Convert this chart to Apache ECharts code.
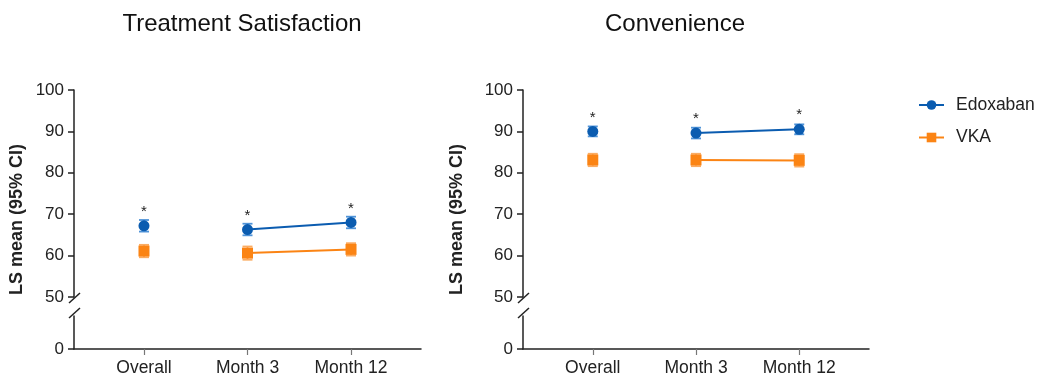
<!DOCTYPE html>
<html>
<head>
<meta charset="utf-8">
<script src="https://cdn.jsdelivr.net/npm/echarts@6/dist/echarts.min.js"></script>
<style>
  html, body { margin: 0; padding: 0; background: #fff; }
  #chart { width: 1039px; height: 378px; }
</style>
</head>
<body>
<div id="chart"></div>
<script>
// categories on the x axis
const categories = ['Overall', 'Month 3', 'Month 12']

// Treatment Satisfaction: LS mean and 95% CI
const edoxTS = [67.2, 66.3, 68.0]
const edoxTSLow = [65.8, 64.9, 66.6]
const edoxTSHigh = [68.6, 67.7, 69.4]
const vkaTS = [61.1, 60.6, 61.5]
const vkaTSLow = [59.6, 59.0, 60.0]
const vkaTSHigh = [62.6, 62.2, 63.0]
const sigTS = [true, true, true]

// Convenience: LS mean and 95% CI
const edoxConv = [90.0, 89.6, 90.5]
const edoxConvLow = [88.8, 88.3, 89.3]
const edoxConvHigh = [91.2, 90.9, 91.7]
const vkaConv = [83.1, 83.1, 83.0]
const vkaConvLow = [81.6, 81.6, 81.5]
const vkaConvHigh = [84.6, 84.6, 84.5]
const sigConv = [true, true, true]

// y axis ranges
const upperRange = [50, 100]
const upperStep = 10
const lowerTicks = [0]

const BLUE = '#0b5cb0'
const BLUE_LIGHT = '#4f93d8'
const ORANGE = '#fb8414'
const ORANGE_LIGHT = '#fbac62'
const INK = '#222'
const FONT = 'Liberation Sans, Arial, sans-serif'

// layout
const panels = [
  { left: 74, right: 421, title: 'Treatment Satisfaction', titleX: 237 },
  { left: 523, right: 869, title: 'Convenience', titleX: 670 }
]
const TOP = 90
const UPPER_BOTTOM = 297
const LOWER_TOP = 316
const AXIS_Y = 349
const PAD = 0.676 // category padding at both ends, in category units

const chart = echarts.init(document.getElementById('chart'))

const grid = []
const xAxis = []
const yAxis = []
const series = []
const graphic = []

function errorBars(name, lo, hi, color, axisIdx) {
  return {
    type: 'custom',
    name: name + ' CI',
    xAxisIndex: axisIdx,
    yAxisIndex: axisIdx,
    z: 2,
    data: lo.map((v, i) => [i, v, hi[i]]),
    renderItem: (params, api) => {
      const a = api.coord([api.value(0), api.value(1)])
      const b = api.coord([api.value(0), api.value(2)])
      const w = 5
      const style = { stroke: color, lineWidth: 1.8 }
      return {
        type: 'group',
        children: [
          { type: 'line', shape: { x1: a[0], y1: a[1], x2: b[0], y2: b[1] }, style },
          { type: 'line', shape: { x1: a[0] - w, y1: a[1], x2: a[0] + w, y2: a[1] }, style },
          { type: 'line', shape: { x1: b[0] - w, y1: b[1], x2: b[0] + w, y2: b[1] }, style }
        ]
      }
    }
  }
}

function lineSeries(name, vals, from, to, symbol, size, color, axisIdx, sig) {
  const data = []
  for (let i = from; i <= to; i++) data.push([i, vals[i]])
  const s = {
    type: 'line',
    name: name,
    xAxisIndex: axisIdx,
    yAxisIndex: axisIdx,
    z: 3,
    data: data,
    symbol: symbol,
    symbolSize: size,
    itemStyle: { color: color },
    lineStyle: { color: color, width: 2 },
    emphasis: { disabled: true }
  }
  if (sig) {
    s.label = {
      show: true,
      position: 'top',
      distance: 1,
      fontSize: 15,
      color: INK,
      formatter: p => (sig[p.data[0]] ? '*' : '')
    }
  }
  return s
}

const panelData = [
  { edox: edoxTS, edoxLo: edoxTSLow, edoxHi: edoxTSHigh, vka: vkaTS, vkaLo: vkaTSLow, vkaHi: vkaTSHigh, sig: sigTS },
  { edox: edoxConv, edoxLo: edoxConvLow, edoxHi: edoxConvHigh, vka: vkaConv, vkaLo: vkaConvLow, vkaHi: vkaConvHigh, sig: sigConv }
]

panels.forEach((p, k) => {
  const width = p.right - p.left
  const up = k * 2
  const low = k * 2 + 1
  grid.push({ left: p.left, top: TOP, width: width, height: UPPER_BOTTOM - TOP })
  grid.push({ left: p.left, top: LOWER_TOP, width: width, height: AXIS_Y - LOWER_TOP })

  xAxis.push({
    type: 'value', gridIndex: up, min: -PAD, max: categories.length - 1 + PAD, show: false
  })
  xAxis.push({
    type: 'value',
    gridIndex: low,
    min: -PAD,
    max: categories.length - 1 + PAD,
    splitLine: { show: false },
    axisLine: { show: true, onZero: false, lineStyle: { color: INK, width: 1.5 } },
    axisTick: { show: true, customValues: categories.map((c, i) => i), length: 6, lineStyle: { color: '#777', width: 1.2 } },
    axisLabel: {
      customValues: categories.map((c, i) => i),
      formatter: v => categories[Math.round(v)],
      fontSize: 17.5, color: INK, margin: 10, fontFamily: FONT
    }
  })

  yAxis.push({
    type: 'value',
    gridIndex: up,
    min: upperRange[0],
    max: upperRange[1],
    interval: upperStep,
    splitLine: { show: false },
    axisLine: { show: true, onZero: false, lineStyle: { color: INK, width: 1.5 } },
    axisTick: { show: true, length: 6, lineStyle: { color: INK, width: 1.5 } },
    axisLabel: { fontSize: 17, color: INK, margin: 10, fontFamily: FONT }
  })
  yAxis.push({
    type: 'value',
    gridIndex: low,
    min: 0,
    max: 10,
    splitLine: { show: false },
    axisLine: { show: true, onZero: false, lineStyle: { color: INK, width: 1.5 } },
    axisTick: { show: true, customValues: lowerTicks, length: 6, lineStyle: { color: INK, width: 1.5 } },
    axisLabel: { customValues: lowerTicks, fontSize: 17, color: INK, margin: 10, fontFamily: FONT }
  })

  const d = panelData[k]
  const n = categories.length - 1
  series.push(lineSeries('Edoxaban', d.edox, 1, n, 'circle', 11, BLUE, up, d.sig))
  series.push(lineSeries('Edoxaban', d.edox, 0, 0, 'circle', 11, BLUE, up, d.sig))
  series.push(lineSeries('VKA', d.vka, 1, n, 'rect', [11, 11], ORANGE, up, null))
  series.push(lineSeries('VKA', d.vka, 0, 0, 'rect', [11, 11], ORANGE, up, null))
  series.push(errorBars('Edoxaban', d.edoxLo, d.edoxHi, BLUE_LIGHT, up))
  series.push(errorBars('VKA', d.vkaLo, d.vkaHi, ORANGE_LIGHT, up))

  // axis break marks
  graphic.push({ type: 'line', shape: { x1: p.left - 5, y1: UPPER_BOTTOM + 6, x2: p.left + 6, y2: UPPER_BOTTOM - 4 }, style: { stroke: INK, lineWidth: 1.5 } })
  graphic.push({ type: 'line', shape: { x1: p.left - 5, y1: LOWER_TOP + 2, x2: p.left + 6, y2: LOWER_TOP - 8 }, style: { stroke: INK, lineWidth: 1.5 } })

  // y axis name
  graphic.push({
    type: 'text',
    x: p.left - 57 - k * 9,
    y: (TOP + AXIS_Y) / 2,
    rotation: Math.PI / 2,
    style: {
      text: 'LS mean (95% CI)',
      font: 'bold 18px ' + FONT,
      fill: INK,
      textAlign: 'center',
      textVerticalAlign: 'middle',
      align: 'center',
      verticalAlign: 'middle'
    }
  })
})

const option = {
  animation: false,
  textStyle: { fontFamily: FONT },
  title: panels.map(p => ({
    text: p.title,
    left: p.titleX,
    top: 7,
    textAlign: 'center',
    textStyle: { fontSize: 24, fontWeight: 'normal', color: '#111', fontFamily: FONT }
  })),
  legend: {
    data: ['Edoxaban', 'VKA'],
    orient: 'vertical',
    left: 918,
    top: 96,
    padding: 0,
    itemWidth: 25,
    itemHeight: 12,
    itemGap: 14.5,
    selectedMode: false,
    textStyle: { fontSize: 17.5, color: INK, fontFamily: FONT, padding: [0, 0, 0, 7] }
  },
  grid: grid,
  xAxis: xAxis,
  yAxis: yAxis,
  series: series,
  graphic: graphic
}

chart.setOption(option)
</script>
</body>
</html>
